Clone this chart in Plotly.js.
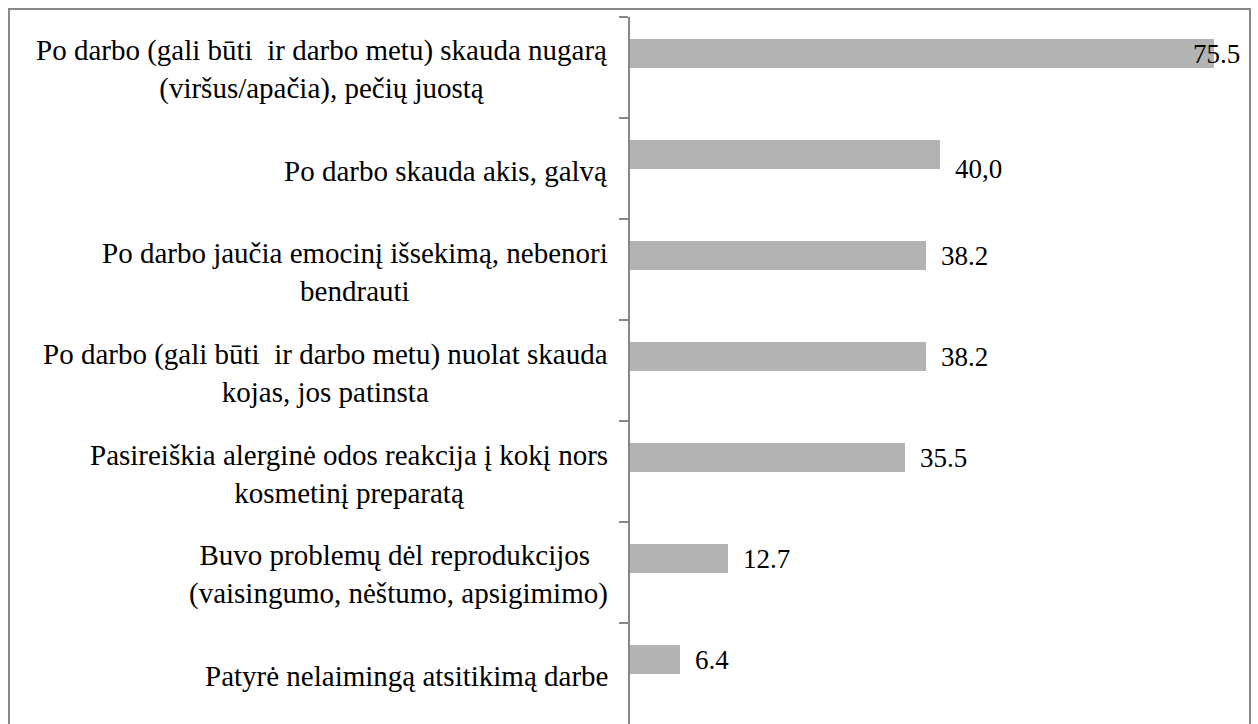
<!DOCTYPE html>
<html>
<head>
<meta charset="utf-8">
<script src="https://cdn.plot.ly/plotly-3.0.1.min.js"></script>
<style>
  html, body { margin: 0; padding: 0; background: #ffffff; overflow: hidden; }
  #wrap { position: relative; width: 1258px; height: 724px; }
  #chart { position: absolute; left: 0; top: 0; width: 1258px; height: 724px; }
  #frame { position: absolute; left: 8px; top: 8px; width: 1239px; height: 760px;
           border: 2px solid #878787; pointer-events: none; }
</style>
</head>
<body>
<div id="wrap">
  <div id="chart"></div>
  <div id="frame"></div>
</div>
<script>
// ---- data ----
const categories = [
  "Po darbo (gali būti  ir darbo metu) skauda nugarą<br>(viršus/apačia), pečių juostą",
  "Po darbo skauda akis, galvą",
  "Po darbo jaučia emocinį išsekimą, nebenori<br>bendrauti",
  "Po darbo (gali būti  ir darbo metu) nuolat skauda<br>kojas, jos patinsta",
  "Pasireiškia alerginė odos reakcija į kokį nors<br>kosmetinį preparatą",
  "Buvo problemų dėl reprodukcijos <br>(vaisingumo, nėštumo, apsigimimo)",
  "Patyrė nelaimingą atsitikimą darbe"
];
const values = [75.5, 40.0, 38.2, 38.2, 35.5, 12.7, 6.4];
const valueLabels = ["75.5", "40,0", "38.2", "38.2", "35.5", "12.7", "6.4"];

// ---- style ----
const FONT = "Liberation Serif, Times New Roman, serif";
const FS_CAT = 29;
const FS_VAL = 27;
const BAR_OFFSET = -0.282, BAR_WIDTH = 0.287;
const labelOnCategoryCenter = [false, true, false, false, false, false, false];
const labelInsideEnd = [true, false, false, false, false, false, false];

const trace = {
  type: 'bar', orientation: 'h', x: values, y: categories,
  offset: BAR_OFFSET, width: BAR_WIDTH,
  marker: { color: '#b3b3b3', line: { width: 0 } }, hoverinfo: 'skip'
};

const annotations = [];
categories.forEach((c, i) => {
  annotations.push({
    xref: 'paper', yref: 'y', x: 0, y: i,
    xanchor: 'right', yanchor: 'middle', xshift: -20, yshift: -2,
    text: c, align: 'center', showarrow: false,
    font: { family: FONT, size: FS_CAT, color: '#000000' }
  });
});
values.forEach((v, i) => {
  const yc = labelOnCategoryCenter[i] ? i : i + BAR_OFFSET + BAR_WIDTH / 2;
  annotations.push({
    xref: 'x', yref: 'y', x: v, y: yc,
    xanchor: labelInsideEnd[i] ? 'center' : 'left', yanchor: 'middle',
    xshift: labelInsideEnd[i] ? 2 : 13,
    text: valueLabels[i], showarrow: false,
    font: { family: FONT, size: FS_VAL, color: '#000000' }
  });
});

const layout = {
  width: 1258, height: 724,
  margin: { l: 630, r: 9, t: 17, b: 0, pad: 0 },
  paper_bgcolor: '#ffffff', plot_bgcolor: '#ffffff',
  showlegend: false, bargap: 0,
  font: { family: FONT },
  xaxis: { range: [0, 80], visible: false, fixedrange: true },
  yaxis: {
    type: 'category', range: [6.5, -0.5], showticklabels: false,
    showgrid: false, zeroline: false,
    showline: true, linecolor: '#878787', linewidth: 2,
    ticks: 'outside', tickson: 'boundaries', ticklen: 9, tickwidth: 2, tickcolor: '#878787',
    fixedrange: true
  },
  annotations: annotations
};
Plotly.newPlot('chart', [trace], layout, { displayModeBar: false, staticPlot: true });
</script>
</body>
</html>
